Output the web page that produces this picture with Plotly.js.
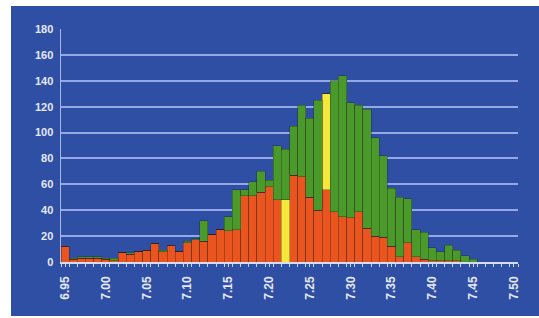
<!DOCTYPE html>
<html>
<head>
<meta charset="utf-8">
<script src="https://cdn.plot.ly/plotly-3.0.1.min.js"></script>
<style>
html,body{margin:0;padding:0;background:#ffffff;}
#chart{position:absolute;left:11px;top:6px;width:528px;height:310px;}
</style>
</head>
<body>
<div id="chart"></div>
<script>
const categories = [6.95,6.96,6.97,6.98,6.99,7.00,7.01,7.02,7.03,7.04,
  7.05,7.06,7.07,7.08,7.09,7.10,7.11,7.12,7.13,7.14,
  7.15,7.16,7.17,7.18,7.19,7.20,7.21,7.22,7.23,7.24,
  7.25,7.26,7.27,7.28,7.29,7.30,7.31,7.32,7.33,7.34,
  7.35,7.36,7.37,7.38,7.39,7.40,7.41,7.42,7.43,7.44,
  7.45,7.46,7.47,7.48,7.49,7.50];
const redValues = [12,2,3,3,3,2,1,7,6,8,
  9,14,8,13,8,15,17,16,21,25,
  24,25,51,51,54,58,48,0,67,66,
  50,40,56,39,35,34,39,26,20,19,
  12,4,15,4,2,1,1,1,1,0,
  0,0,0,0,0,0];
const yellowValues = [0,0,0,0,0,0,0,0,0,0,
  0,0,0,0,0,0,0,0,0,0,
  0,0,0,0,0,0,0,48,0,0,
  0,0,74,0,0,0,0,0,0,0,
  0,0,0,0,0,0,0,0,0,0,
  0,0,0,0,0,0];
const greenValues = [0,1,1,1,1,1,2,0,1,0,
  0,0,1,0,0,1,1,16,0,0,
  11,31,5,11,16,5,42,39,38,55,
  61,85,0,101,109,89,82,92,76,63,
  45,46,34,21,21,10,7,12,8,5,
  2,0,0,0,0,0];
const tickValues = [6.95,7.00,7.05,7.10,7.15,7.20,7.25,7.30,7.35,7.40,7.45,7.50];
const tickLabels = ["6.95","7.00","7.05","7.10","7.15","7.20","7.25","7.30","7.35","7.40","7.45","7.50"];

const outline = {color:'rgba(40,30,20,0.55)', width:0.6};
const traces = [
  {type:'bar', x:categories, y:redValues, marker:{color:'#E9541F', line:outline}, hoverinfo:'none'},
  {type:'bar', x:categories, y:yellowValues, marker:{color:'#F4E83C', line:outline}, hoverinfo:'none'},
  {type:'bar', x:categories, y:greenValues, marker:{color:'#4A992B', line:outline}, hoverinfo:'none'}
];
const layout = {
  width:528, height:310,
  margin:{l:50, r:21, t:23, b:54},
  paper_bgcolor:'#2F4FA4',
  plot_bgcolor:'#2F4FA4',
  barmode:'stack', bargap:0,
  showlegend:false,
  font:{family:'Liberation Sans, Arial, sans-serif', color:'#E6E9F7'},
  xaxis:{
    type:'linear', range:[6.945,7.505],
    tickmode:'array', tickvals:tickValues, ticktext:tickLabels,
    tickangle:-90, tickfont:{size:12, weight:'bold', color:'#E6E9F7'},
    ticks:'outside', ticklen:3, tickcolor:'#C9D3F2', tickwidth:1,
    ticklabelstandoff:5,
    showgrid:false, zeroline:false,
    showline:true, linecolor:'#D5DCF5', linewidth:1.5,
    minor:{tickmode:'linear', tick0:6.945, dtick:0.01, ticks:'outside', ticklen:3, tickcolor:'#C9D3F2', tickwidth:1, showgrid:false}
  },
  yaxis:{
    range:[0,180], dtick:20, tick0:0,
    tickfont:{size:11, weight:'bold', color:'#E6E9F7'},
    showgrid:true, gridcolor:'#93A8E4', gridwidth:2,
    zeroline:false, showline:true, linecolor:'#A9B8EA', linewidth:1.5,
    ticks:'', ticklabelstandoff:4
  }
};
Plotly.newPlot('chart', traces, layout, {staticPlot:true, displayModeBar:false});
</script>
</body>
</html>
